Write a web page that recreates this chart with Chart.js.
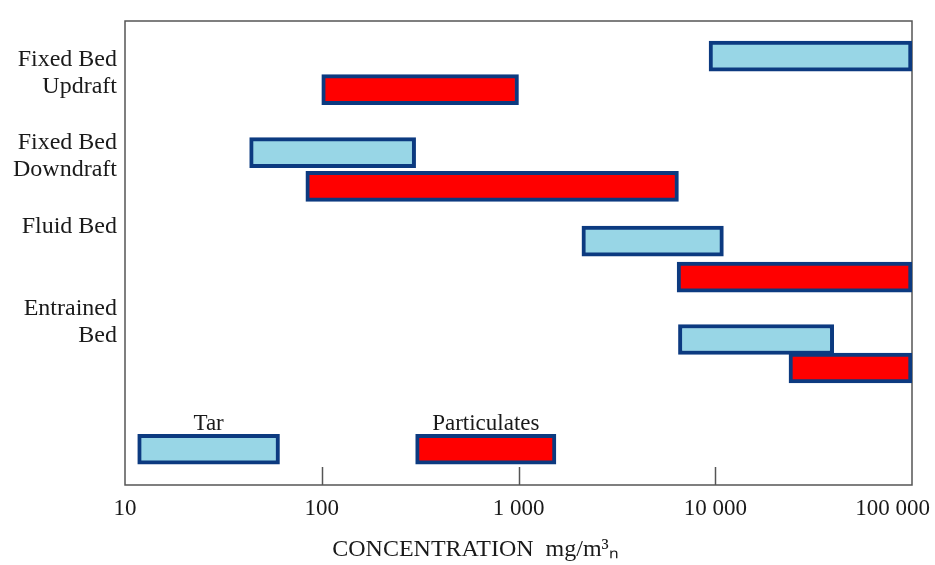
<!DOCTYPE html>
<html>
<head>
<meta charset="utf-8">
<script src="https://cdn.jsdelivr.net/npm/chart.js@4"></script>
<style>
  body { margin: 0; background: #fff; }
  #wrap { width: 935px; height: 565px; }
</style>
</head>
<body>
<div id="wrap"><canvas id="myChart"></canvas></div>
<script>
// row groups (left labels) and where they sit on the vertical axis
const groups = [["Fixed Bed", "Updraft"], ["Fixed Bed", "Downdraft"], ["Fluid Bed"], ["Entrained", "Bed"]]
const groupPos = [1.57, 4.09, 6.22, 9.08]

// bar rows: 4 gasifier types + legend row
const tarRow = [1.06, 3.97, 6.64, 9.61, 12.92]
const partRow = [2.07, 4.99, 7.73, 10.47, 12.92]

// concentration ranges mg/m3n  (last one = legend sample bar)
const tarLow = [9300, 43, 2100, 6500, 11.6]
const tarHigh = [100000, 300, 11000, 40000, 61]
const partLow = [100, 83, 6400, 23700, 300]
const partHigh = [1000, 6500, 100000, 100000, 1550]

const legendNames = ["Tar", "Particulates"]

const xTicks = [10, 100, 1000, 10000, 100000]
const xTickLabels = ["10", "100", "1 000", "10 000", "100 000"]
const xTitle = "CONCENTRATION  mg/m\u00B3\u2099"

const serif = "'Liberation Serif', 'Times New Roman', serif"
const txt = "#1a1a1a"
const frame = "#555"

const tarData = tarLow.map((v, i) => ({ y: tarRow[i], x: [v, tarHigh[i]] }))
const partData = partLow.map((v, i) => ({ y: partRow[i], x: [v, partHigh[i]] }))

const decor = {
  id: "decor",
  beforeDatasetsDraw(chart) {
    const { ctx, chartArea: a, scales } = chart
    ctx.save()
    ctx.strokeStyle = frame
    ctx.lineWidth = 1.5
    ctx.strokeRect(a.left, a.top, a.right - a.left, a.bottom - a.top)
    // inward tick marks
    xTicks.slice(1, -1).forEach(v => {
      const px = Math.round(scales.x.getPixelForValue(v)) + 0.5
      ctx.beginPath()
      ctx.moveTo(px, a.bottom)
      ctx.lineTo(px, a.bottom - 18)
      ctx.stroke()
    })
    ctx.restore()
  },
  afterDatasetsDraw(chart) {
    const { ctx, chartArea: a, scales, width, height } = chart
    ctx.save()
    ctx.fillStyle = txt
    ctx.font = "23px " + serif
    ctx.textBaseline = "middle"
    ctx.textAlign = "center"
    xTicks.forEach((v, i) => {
      let px = scales.x.getPixelForValue(v)
      const w = ctx.measureText(xTickLabels[i]).width
      if (px + w / 2 > width - 5) px = width - 5 - w / 2
      ctx.fillText(xTickLabels[i], px, a.bottom + 24)
    })
    ctx.font = "24px " + serif
    ctx.fillText(xTitle, width / 2 + 8, height - 15)
    // legend captions above the sample bars
    ctx.font = "23px " + serif
    ctx.textBaseline = "bottom"
    legendNames.forEach((name, d) => {
      const meta = chart.getDatasetMeta(d)
      const el = meta.data[meta.data.length - 1]
      const p = el.getProps(["x", "base", "y", "height"], true)
      ctx.fillText(name, (p.x + p.base) / 2, p.y - p.height / 2 + 1)
    })
    ctx.restore()
  }
}

const barStyle = {
  borderColor: "#0c3a80",
  borderWidth: 4,
  borderSkipped: false,
  grouped: false,
  barThickness: 30,
  barPercentage: 1,
  categoryPercentage: 1
}

new Chart(document.getElementById("myChart"), {
  type: "bar",
  data: {
    datasets: [
      Object.assign({ label: legendNames[0], data: tarData, backgroundColor: "#98d6e6" }, barStyle),
      Object.assign({ label: legendNames[1], data: partData, backgroundColor: "#ff0000" }, barStyle)
    ]
  },
  options: {
    indexAxis: "y",
    responsive: true,
    maintainAspectRatio: false,
    animation: false,
    layout: { padding: { top: 21, right: 23, bottom: 0, left: 0 } },
    plugins: { legend: { display: false }, tooltip: { enabled: false } },
    scales: {
      x: {
        type: "logarithmic",
        min: 10,
        max: 100000,
        grid: { display: false },
        border: { display: false },
        ticks: { display: false },
        afterFit: s => { s.height = 80; s.paddingLeft = 0; s.paddingRight = 0 }
      },
      y: {
        type: "linear",
        min: 0,
        max: 14,
        reverse: true,
        offset: false,
        grid: { display: false, drawTicks: false },
        border: { display: false },
        afterBuildTicks: s => { s.ticks = groupPos.map(v => ({ value: v })) },
        ticks: {
          color: txt,
          padding: 8,
          font: { family: serif, size: 24, lineHeight: 1.13 },
          callback: (v, i) => groups[i]
        },
        afterFit: s => { s.width = 125; s.paddingTop = 0; s.paddingBottom = 0 }
      }
    }
  },
  plugins: [decor]
})
</script>
</body>
</html>
